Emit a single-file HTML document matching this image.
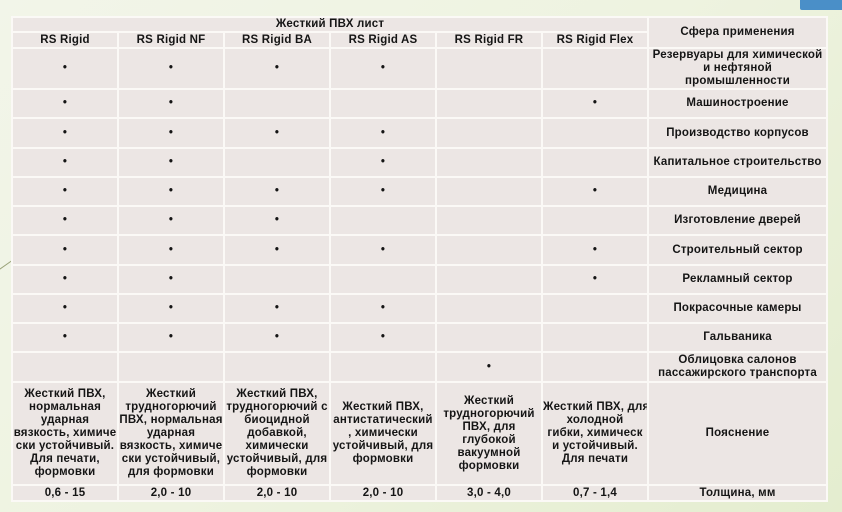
<!DOCTYPE html>
<html><head><meta charset="utf-8"><style>
html,body{margin:0;padding:0}
body{width:842px;height:512px;overflow:hidden;position:relative;
background:linear-gradient(135deg,#f2f5e9 0%,#eef3e0 50%,#e4edcf 100%);
font-family:"Liberation Sans","DejaVu Sans",sans-serif;}
.btn{position:absolute;left:800px;top:-4px;width:50px;height:14px;background:#4a8fc8;border-radius:2px}
.ln{position:absolute;left:-10px;top:265px;width:30px;height:1px;background:#9aa37a;transform:rotate(-35deg)}
table{position:absolute;left:11px;top:16px;width:815px;border-collapse:collapse;table-layout:fixed;}
td{background:#ece6e4;border:2px solid #fbf9f6;text-align:center;vertical-align:middle;
font-size:11.5px;font-weight:bold;color:#151515;padding:0;line-height:13px;overflow:hidden;white-space:nowrap;letter-spacing:0.2px}
</style></head><body>
<div class="btn"></div><div class="ln"></div>
<table>
<colgroup><col style="width:106px"><col style="width:106px"><col style="width:106px"><col style="width:106px"><col style="width:106px"><col style="width:106px"><col style="width:179px"></colgroup>
<tr style="height:15px"><td colspan="6">Жесткий ПВХ лист</td><td rowspan="2">Сфера применения</td></tr>
<tr style="height:16px"><td>RS Rigid</td><td>RS Rigid NF</td><td>RS Rigid BA</td><td>RS Rigid AS</td><td>RS Rigid FR</td><td>RS Rigid Flex</td></tr>
<tr style="height:41px"><td>•</td><td>•</td><td>•</td><td>•</td><td></td><td></td><td>Резервуары для химической<br>и нефтяной<br>промышленности</td></tr>
<tr style="height:29px"><td>•</td><td>•</td><td></td><td></td><td></td><td>•</td><td>Машиностроение</td></tr>
<tr style="height:30px"><td>•</td><td>•</td><td>•</td><td>•</td><td></td><td></td><td>Производство корпусов</td></tr>
<tr style="height:29px"><td>•</td><td>•</td><td></td><td>•</td><td></td><td></td><td>Капитальное строительство</td></tr>
<tr style="height:29px"><td>•</td><td>•</td><td>•</td><td>•</td><td></td><td>•</td><td>Медицина</td></tr>
<tr style="height:29px"><td>•</td><td>•</td><td>•</td><td></td><td></td><td></td><td>Изготовление дверей</td></tr>
<tr style="height:30px"><td>•</td><td>•</td><td>•</td><td>•</td><td></td><td>•</td><td>Строительный сектор</td></tr>
<tr style="height:29px"><td>•</td><td>•</td><td></td><td></td><td></td><td>•</td><td>Рекламный сектор</td></tr>
<tr style="height:29px"><td>•</td><td>•</td><td>•</td><td>•</td><td></td><td></td><td>Покрасочные камеры</td></tr>
<tr style="height:29px"><td>•</td><td>•</td><td>•</td><td>•</td><td></td><td></td><td>Гальваника</td></tr>
<tr style="height:30px"><td></td><td></td><td></td><td></td><td>•</td><td></td><td>Облицовка салонов<br>пассажирского транспорта</td></tr>
<tr style="height:103px"><td>Жесткий ПВХ,<br>нормальная<br>ударная<br>вязкость,  химиче<br>ски устойчивый.<br>Для печати,<br>формовки</td><td>Жесткий<br>трудногорючий<br>ПВХ, нормальная<br>ударная<br>вязкость,  химиче<br>ски устойчивый,<br>для формовки</td><td>Жесткий ПВХ,<br>трудногорючий с<br>биоцидной<br>добавкой,<br>химически<br>устойчивый, для<br>формовки</td><td>Жесткий ПВХ,<br>антистатический<br>,  химически<br>устойчивый, для<br>формовки</td><td>Жесткий<br>трудногорючий<br>ПВХ,  для<br>глубокой<br>вакуумной<br>формовки</td><td>Жесткий ПВХ, для<br>холодной<br>гибки,  химическ<br>и устойчивый.<br>Для печати</td><td>Пояснение</td></tr>
<tr style="height:16px"><td>0,6 - 15</td><td>2,0 - 10</td><td>2,0 - 10</td><td>2,0 - 10</td><td>3,0 - 4,0</td><td>0,7 - 1,4</td><td>Толщина, мм</td></tr>
</table>
</body></html>
